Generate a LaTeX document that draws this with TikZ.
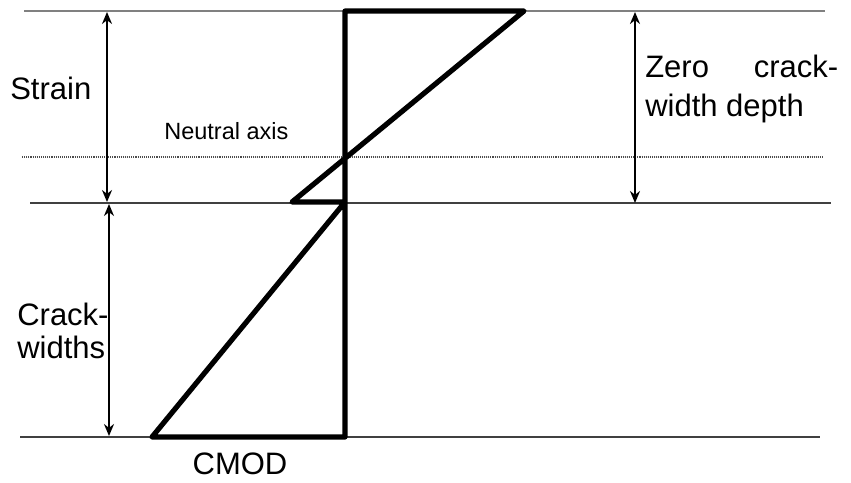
\documentclass[tikz,border=0pt]{standalone}
\usepackage{fontspec}
\setmainfont{Liberation Sans}
\usetikzlibrary{arrows.meta}

\begin{document}
\begin{tikzpicture}[x=1pt,y=-1pt,>={Stealth[length=12pt,width=10pt]},semithick]
    \tikzstyle{levelline}=[draw=black!75, line width=1.1pt]
    \tikzstyle{dimarrow}=[<->, line width=2.4pt]
    \tikzstyle{profile}=[line width=5.2pt, line join=round]
    \tikzstyle{big}=[inner sep=0pt, font=\fontsize{31}{33}\selectfont]
    \useasboundingbox (0,0) rectangle (851,482);

    % levels
    \coordinate (topL) at (24,11);    \coordinate (topR) at (825,11);
    \coordinate (naL) at (22,157);    \coordinate (naR) at (824,157);
    \coordinate (midL) at (30,203);   \coordinate (midR) at (831,203);
    \coordinate (botL) at (20,437);   \coordinate (botR) at (820,437);
    \draw[levelline, black!50] (topL) -- (topR);
    \draw[levelline, black!70, densely dotted] (naL) -- (naR);
    \draw[levelline] (midL) -- (midR);
    \draw[levelline] (botL) -- (botR);

    % profile
    \coordinate (p1) at (345,11);
    \coordinate (p2) at (524,11);
    \coordinate (p3) at (292,202);
    \coordinate (p4) at (345,202);
    \coordinate (p5) at (152,437);
    \coordinate (p6) at (345,437);
    \draw[profile] (p1) -- (p2) -- (p3) -- (p4) -- (p5) -- (p6) -- cycle;

    % dimension arrows
    \coordinate (s1) at (107,12);   \coordinate (s2) at (107,202);
    \coordinate (c1) at (109,204);  \coordinate (c2) at (109,436);
    \coordinate (z1) at (635,12);   \coordinate (z2) at (635,203);
    \draw[dimarrow] (s1) -- (s2);
    \draw[dimarrow] (c1) -- (c2);
    \draw[dimarrow] (z1) -- (z2);

    % labels
    \node[big, anchor=base west] (strain) at (10,99) {Strain};
    \node[inner sep=0pt, anchor=base west, font=\fontsize{23.5}{28}\selectfont] (na) at (164,139) {Neutral axis};
    \node[big, anchor=north west, align=left, font=\fontsize{31}{39}\selectfont] (zero) at (645,55)
        {\makebox[193pt][s]{Zero crack-}\\width depth};
    \node[big, anchor=north west, align=left] (crack) at (17,303) {Crack-\\widths};
    \node[big, anchor=base] (cmod) at (240,474) {CMOD};
\end{tikzpicture}
\end{document}
